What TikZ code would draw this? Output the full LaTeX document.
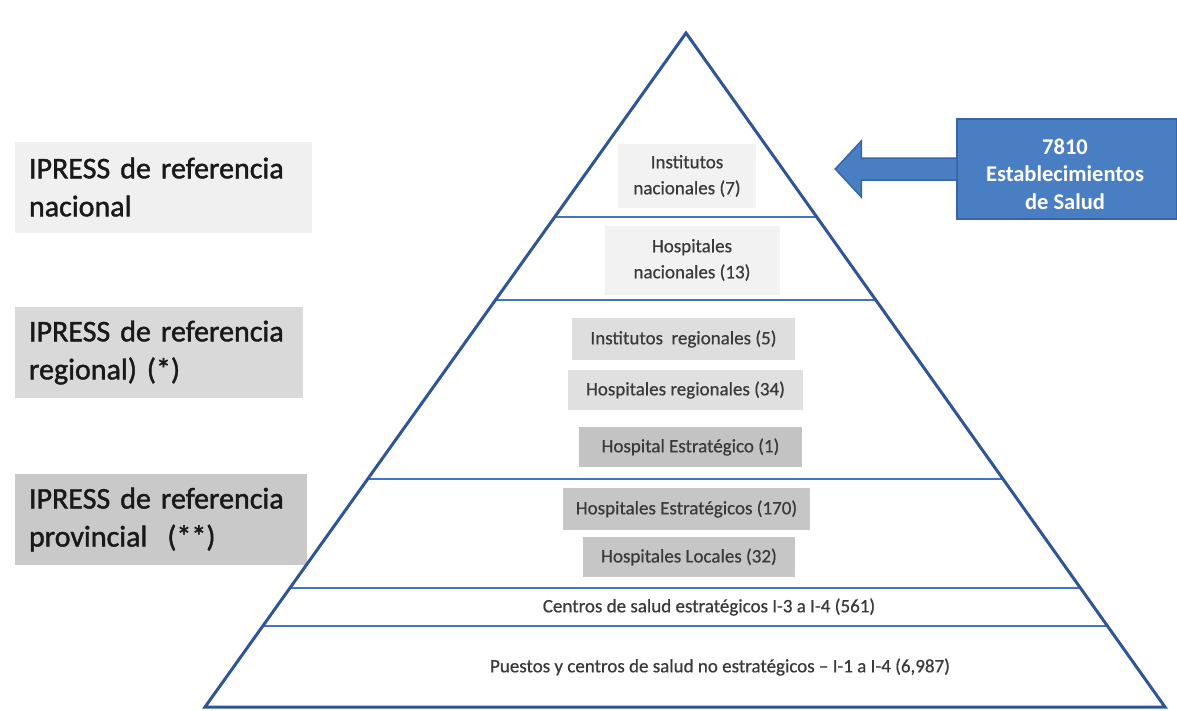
\documentclass[tikz,border=0pt]{standalone}
\usepackage{fontspec}
\setmainfont{Carlito}
\newfontfamily\labelfont[FakeBold=1.4,WordSpace=0.75]{Carlito}
\newfontfamily\levelfont[FakeBold=0.6]{Carlito}
\usetikzlibrary{calc,positioning}

\definecolor{pyrblue}{HTML}{2F5597}
\definecolor{layerblue}{HTML}{4472C4}
\definecolor{totalfill}{HTML}{4A7EC2}
\definecolor{totaledge}{HTML}{3564A8}
\definecolor{textgray}{HTML}{3A3A3A}

\begin{document}
\begin{tikzpicture}[x=1pt, y=-1pt,
    pyramid/.style={draw=pyrblue, line width=3pt, line join=miter},
    layerline/.style={draw=layerblue, line width=1.8pt},
    sidelabel/.style={rectangle, fill=#1, text=black!90, text width=260pt,
        align=left, inner xsep=14pt, inner ysep=0pt, minimum height=91pt,
        font=\labelfont\fontsize{30}{38}\selectfont},
    levelbox/.style={rectangle, fill=#1, text=textgray, inner sep=0pt,
        align=center, font=\levelfont\fontsize{19}{26}\selectfont},
    leveltext/.style={text=textgray, inner sep=0pt,
        font=\levelfont\fontsize{19}{26}\selectfont},
    totalbox/.style={rectangle, fill=totalfill, draw=totaledge, line width=1.5pt,
        minimum width=220pt, minimum height=100pt},
    totaltext/.style={text=white, align=center, inner sep=0pt,
        font=\bfseries\fontsize{22.5}{27.5}\selectfont},
    totalarrow/.style={fill=totalfill, draw=totaledge, line width=1.5pt, line join=miter}
]
\useasboundingbox (0,0) rectangle (1177,710);
\fill[white] (0,0) rectangle (1177,710);

\coordinate (apex) at (686,33);
\coordinate (bl) at (205,707);
\coordinate (br) at (1165,707);

\foreach \t in {0.273,0.396,0.662,0.823,0.880}
  \draw[layerline] ($(apex)!\t!(bl)$) -- ($(apex)!\t!(br)$);

\node (labnac) [sidelabel=gray!12, text width=269pt] at (163.5,187) {IPRESS de referencia\\nacional};
\node (labreg) [sidelabel=gray!30] at (159,352.5) {IPRESS de referencia\\regional) (*)};
\node (labprov) [sidelabel=gray!42, text width=264pt] at (161,519.5) {IPRESS de referencia\\provincial~~(**)};

\node (instnac) [levelbox=gray!10, minimum width=138, minimum height=64] at (687,176) {Institutos\\nacionales (7)};
\node (hospnac) [levelbox=gray!10, minimum width=175, minimum height=69] at (692,260) {Hospitales\\nacionales (13)};
\node (instreg) [levelbox=gray!26, minimum width=223, minimum height=42] at (683.5,339) {Institutos~ regionales (5)};
\node (hospreg) [levelbox=gray!24, minimum width=235, minimum height=40] at (685.5,390) {Hospitales regionales (34)};
\node (hospest) [levelbox=gray!47, minimum width=223, minimum height=40] at (690.5,447) {Hospital Estratégico (1)};
\node (hospests) [levelbox=gray!45, minimum width=247, minimum height=42] at (686.5,509) {Hospitales Estratégicos (170)};
\node (hosploc) [levelbox=gray!45, minimum width=212, minimum height=40] at (689,557) {Hospitales Locales (32)};
\node (centros) [leveltext] at (709,607) {Centros de salud estratégicos I-3 a I-4 (561)};
\node (puestos) [leveltext] at (720,667) {Puestos y centros de salud no estratégicos – I-1 a I-4 (6,987)};

\draw[pyramid] (apex) -- (br) -- (bl) -- cycle;

\node (total) [totalbox] at (1067,169) {};
\node (totallabel) [totaltext] at (1065,174) {7810\\Establecimientos\\de Salud};
\draw[totalarrow] ($(total.west)+(0,-11)$) -- ++(-95,0) -- ++(0,-17) -- ++(-26,28)
  -- ++(26,28) -- ++(0,-17) -- ++(95,0);
\end{tikzpicture}
\end{document}
